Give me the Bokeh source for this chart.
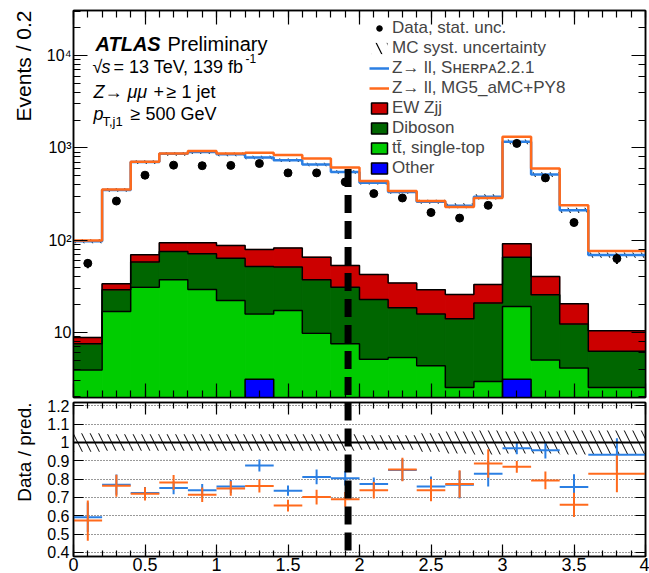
import numpy as np
from bokeh.plotting import figure
from bokeh.models import (Range1d, LogAxis, LinearAxis, SingleIntervalTicker, FixedTicker,
                          LogTicker, PrintfTickFormatter, CustomJSTickFormatter, Span, Label,
                          Legend, LegendItem, Title)
from bokeh.layouts import column
from bokeh.embed import file_html
from bokeh.resources import INLINE

# ---------------- data ----------------
edges = [0.0, 0.2, 0.4, 0.6, 0.8, 1.0, 1.2, 1.4, 1.6, 1.8, 2.0, 2.2, 2.4, 2.6, 2.8, 3.0, 3.2, 3.4, 3.6, 4.0]
data = [56, 265, 505, 649, 640, 645, 676, 535, 535, 427, 319, 286, 199, 173, 238, 1117, 472, 155, 63]
data_err = [6.5, 16, 22, 25, 25, 25, 26, 23, 23, 21, 18, 17, 14, 13, 15, 33, 22, 12, 8]
sherpa = [97, 350, 700, 860, 900, 850, 787, 735, 660, 548, 417, 332, 261, 236, 295, 1162, 514, 210, 69]
mg5 = [99, 353, 705, 869, 921, 869, 882, 835, 767, 612, 437, 341, 265, 229, 286, 1318, 597, 238, 76]
other = [1.0, 1.0, 1.0, 1.0, 1.0, 1.0, 3.1, 1.0, 1.0, 1.0, 1.0, 1.0, 1.0, 1.0, 1.0, 3.1, 1.0, 1.0, 1.0]
ttbar = [2.9, 15.8, 29.8, 36.1, 28.1, 21.1, 12.7, 16.2, 8.8, 6.5, 4.1, 4.35, 3.34, 1.52, 1.93, 15.9, 4.0, 3.1, 1.52]
diboson = [3.6, 12.1, 26.9, 38.2, 42.0, 41.6, 35.9, 33.8, 27.4, 23.3, 17.6, 13.1, 11.5, 11.5, 17.8, 46.3, 20.5, 8.2, 3.7]
ewzjj = [1.3, 4.7, 11.6, 18.4, 22.6, 23.8, 27.5, 30.9, 28.1, 22.3, 19.7, 15.7, 13.1, 11.7, 12.3, 26.1, 14.8, 8.1, 4.2]
mc_syst = [0.05, 0.045, 0.045, 0.045, 0.045, 0.045, 0.045, 0.045, 0.045, 0.045, 0.04, 0.04, 0.05, 0.06, 0.065, 0.06, 0.06, 0.065, 0.065]
ratio_sherpa = [0.592, 0.77, 0.724, 0.752, 0.739, 0.76, 0.874, 0.737, 0.812, 0.805, 0.774, 0.85, 0.76, 0.77, 0.83, 0.968, 0.957, 0.757, 0.933]
ratio_sherpa_err = [0.08, 0.055, 0.033, 0.035, 0.035, 0.035, 0.033, 0.028, 0.04, 0.04, 0.035, 0.06, 0.055, 0.075, 0.07, 0.032, 0.045, 0.07, 0.09]
ratio_mg5 = [0.574, 0.764, 0.72, 0.782, 0.715, 0.749, 0.763, 0.656, 0.702, 0.69, 0.739, 0.852, 0.739, 0.774, 0.885, 0.867, 0.793, 0.66, 0.829]
ratio_mg5_err = [0.11, 0.06, 0.036, 0.04, 0.04, 0.04, 0.036, 0.032, 0.04, 0.04, 0.045, 0.064, 0.06, 0.075, 0.078, 0.032, 0.048, 0.066, 0.1]
ratio_ticks = [0.4, 0.5, 0.6, 0.7, 0.8, 0.9, 1.0, 1.1, 1.2]
cut_x = 1.92
cut_top = 590

FONT = "Liberation Sans"
C_RED, C_DGREEN, C_LGREEN, C_BLUE = "#cc0000", "#006600", "#00cc00", "#0000ff"
C_SHERPA, C_MG5 = "#2b7fe3", "#ff6a1c"

e = np.array(edges)
left, right = e[:-1], e[1:]
centers = 0.5 * (left + right)
c_other = np.array(other)
c_tt = c_other + np.array(ttbar)
c_db = c_tt + np.array(diboson)
c_ew = c_db + np.array(ewzjj)
base = np.full(len(left), 1e-3)

Y_LO, Y_HI = 1.966, 30800.0
FT, FH, FL, FW = 10, 387, 73, 572


def X(px):
    return 4.0 * (px - FL) / FW


def Y(py):
    lt, lb = np.log10(Y_HI), np.log10(Y_LO)
    return 10 ** (lt - (py - FT) * (lt - lb) / FH)


def ext(a):
    a = list(a)
    return a + [a[-1]]


def style_axis(ax, major=14, minor=7, labels=True, size="16px"):
    ax.major_tick_in = major
    ax.major_tick_out = 0
    ax.minor_tick_in = minor
    ax.minor_tick_out = 0
    ax.major_tick_line_color = "black"
    ax.minor_tick_line_color = "black"
    ax.axis_line_color = "black"
    ax.axis_line_width = 1.5
    ax.major_tick_line_width = 1.2
    ax.minor_tick_line_width = 1.2
    if labels:
        ax.major_label_text_font = FONT
        ax.major_label_text_font_size = size
        ax.major_label_text_color = "black"
    else:
        ax.formatter = CustomJSTickFormatter(code="return ''")
        ax.major_label_text_font_size = "1px"
        ax.major_label_standoff = 0


# ---------------- main panel ----------------
p = figure(frame_width=FW, frame_height=FH, x_range=Range1d(0, 4), y_range=Range1d(Y_LO, Y_HI),
           y_axis_type="log", output_backend="svg", toolbar_location=None,
           min_border_left=FL, min_border_right=4, min_border_top=FT, min_border_bottom=2)
p.grid.visible = False
p.outline_line_color = "black"
p.outline_line_width = 1.5

p.xaxis.ticker = SingleIntervalTicker(interval=0.5, num_minor_ticks=5)
style_axis(p.xaxis[0], labels=False)
top_ax = LinearAxis(ticker=SingleIntervalTicker(interval=0.5, num_minor_ticks=5))
style_axis(top_ax, labels=False)
p.add_layout(top_ax, "above")
style_axis(p.yaxis[0], major=14, minor=7, size="16px")
p.yaxis[0].major_label_overrides = {10: "10", 100: "10²", 1000: "10³", 10000: "10⁴"}
p.yaxis[0].major_label_standoff = 2
right_ax = LogAxis(ticker=LogTicker())
style_axis(right_ax, labels=False)
p.add_layout(right_ax, "right")
p.add_layout(Title(text="Events / 0.2", align="right", text_font=FONT, text_font_size="21px",
                   text_font_style="normal", text_color="black", standoff=17), "left")

# stacked backgrounds
p.quad(left=left, right=right, bottom=c_tt, top=c_db, fill_color=C_DGREEN, line_color=C_DGREEN, line_width=1)
p.quad(left=left, right=right, bottom=c_db, top=c_ew, fill_color=C_RED, line_color=C_RED, line_width=1)
p.quad(left=left, right=right, bottom=c_other, top=c_tt, fill_color=C_LGREEN, line_color=C_LGREEN, line_width=1)
p.quad(left=left, right=right, bottom=base, top=c_other, fill_color=C_BLUE, line_color=None)
for cum in (c_other, c_tt, c_db, c_ew):
    p.step(x=edges, y=ext(cum), mode="after", line_color="black", line_width=1.5)

# MC syst band (tiny on log scale)
sh = np.array(sherpa)
u = np.array(mc_syst)
band = p.quad(left=left, right=right, bottom=sh * (1 - u), top=sh * (1 + u), fill_color=None,
              line_color=None, hatch_pattern="\\", hatch_color="black", hatch_weight=1, hatch_scale=17)

l_sh = p.step(x=edges, y=ext(sherpa), mode="after", line_color=C_SHERPA, line_width=2.5)
l_mg = p.step(x=edges, y=ext(mg5), mode="after", line_color=C_MG5, line_width=2.5)

d = np.array(data)
de = np.array(data_err)
p.segment(x0=centers, y0=d - de, x1=centers, y1=d + de, line_color="black", line_width=2)
dots = p.scatter(x=centers, y=data, size=8, marker="circle", fill_color="black", line_color="black")

p.segment(x0=[cut_x], y0=[cut_top], x1=[cut_x], y1=[1.0], line_color="black", line_width=7, line_dash="18 8")

# legend-only renderers (same data, hidden in the plot)
dsys = p.quad(left=left, right=right, bottom=sh * (1 - u), top=sh * (1 + u), fill_color=None,
              line_color=None, hatch_pattern="\\", hatch_color="black", hatch_weight=1.2,
              hatch_scale=22, visible=False)
boxes = []
for bot, top, col in ((c_db, c_ew, C_RED), (c_tt, c_db, C_DGREEN), (c_other, c_tt, C_LGREEN),
                      (base, c_other, C_BLUE)):
    boxes.append(p.quad(left=left, right=right, bottom=bot, top=top, fill_color=col,
                        line_color="black", line_width=1.5, visible=False))

legend = Legend(items=[
    LegendItem(label="Data, stat. unc.", renderers=[dots]),
    LegendItem(label="MC syst. uncertainty", renderers=[dsys]),
    LegendItem(label="Z→ ll, Sʜᴇʀᴘᴀ2.2.1", renderers=[l_sh]),
    LegendItem(label="Z→ ll, MG5_aMC+PY8", renderers=[l_mg]),
    LegendItem(label="EW Zjj", renderers=[boxes[0]]),
    LegendItem(label="Diboson", renderers=[boxes[1]]),
    LegendItem(label="tt̄, single-top", renderers=[boxes[2]]),
    LegendItem(label="Other", renderers=[boxes[3]]),
], location=(296, 219), padding=0, margin=0, border_line_color=None, background_fill_alpha=0,
    label_text_font=FONT, label_text_font_size="17px", glyph_width=20, glyph_height=14,
    label_standoff=3, spacing=-2, label_height=17, inactive_fill_alpha=0)
p.add_layout(legend)


def lab(px, py, text, size="18px", style="normal"):
    p.add_layout(Label(x=X(px), y=Y(py), text=text, text_font=FONT, text_font_size=size,
                       text_font_style=style, text_baseline="alphabetic", text_color="black"))


lab(95, 43, "ATLAS", "20px", "bold italic")
lab(167, 43, "Preliminary", "20px")
lab(92, 66, "√", "18px")
lab(101, 66, "s", "18px", "italic")
lab(113, 66, "= 13 TeV, 139 fb", "18px")
lab(245, 58, "-1", "12px")
lab(93, 91, "Z", "18px", "italic")
lab(104, 91, "→", "18px")
lab(127, 91, "μμ", "18px", "italic")
lab(153, 91, "+", "18px")
lab(166, 91, "≥ 1 jet", "18px")
lab(93, 113, "p", "18px", "italic")
lab(102, 121, "T,j1", "13px")
lab(130, 113, "≥ 500 GeV", "18px")

# ---------------- ratio panel ----------------
r = figure(frame_width=FW, frame_height=154, x_range=p.x_range, y_range=Range1d(0.378, 1.218),
           output_backend="svg", toolbar_location=None,
           min_border_left=FL, min_border_right=4, min_border_top=3, min_border_bottom=0)
r.outline_line_color = "black"
r.outline_line_width = 1.5
r.xgrid.visible = False
r.ygrid.ticker = FixedTicker(ticks=ratio_ticks)
r.ygrid.grid_line_color = "#333333"
r.ygrid.grid_line_dash = "1 2"
r.ygrid.grid_line_width = 1

r.xaxis.ticker = SingleIntervalTicker(interval=0.5, num_minor_ticks=5)
style_axis(r.xaxis[0], major=12, minor=6, size="18px")
r.xaxis[0].formatter = PrintfTickFormatter(format="%g")
r.xaxis[0].major_label_standoff = 1
rtop = LinearAxis(ticker=SingleIntervalTicker(interval=0.5, num_minor_ticks=5))
style_axis(rtop, major=12, minor=6, labels=False)
r.add_layout(rtop, "above")
r.yaxis.ticker = FixedTicker(ticks=ratio_ticks)
style_axis(r.yaxis[0], major=10, minor=5, size="16px")
r.yaxis[0].formatter = PrintfTickFormatter(format="%g")
r.yaxis[0].major_label_standoff = 4
rright = LinearAxis(ticker=FixedTicker(ticks=ratio_ticks))
style_axis(rright, major=10, minor=5, labels=False)
r.add_layout(rright, "right")
r.add_layout(Title(text="Data / pred.", align="right", text_font=FONT, text_font_size="19px",
                   text_font_style="normal", text_color="black", standoff=20), "left")

r.quad(left=left, right=right, bottom=1 - u, top=1 + u, fill_color=None, line_color=None,
       hatch_pattern="\\", hatch_color="black", hatch_weight=1, hatch_scale=17)
r.add_layout(Span(location=1.0, dimension="width", line_color="black", line_width=2))

for rv, re_, col in ((ratio_sherpa, ratio_sherpa_err, C_SHERPA), (ratio_mg5, ratio_mg5_err, C_MG5)):
    rv = np.array(rv)
    re_ = np.array(re_)
    r.segment(x0=left, y0=rv, x1=right, y1=rv, line_color=col, line_width=2)
    r.segment(x0=centers, y0=rv - re_, x1=centers, y1=rv + re_, line_color=col, line_width=2)

r.add_layout(Span(location=cut_x, dimension="height", line_color="black", line_width=7, line_dash="18 8"))

layout = column(p, r, spacing=0)
open("out.html", "w").write(file_html(layout, INLINE))
